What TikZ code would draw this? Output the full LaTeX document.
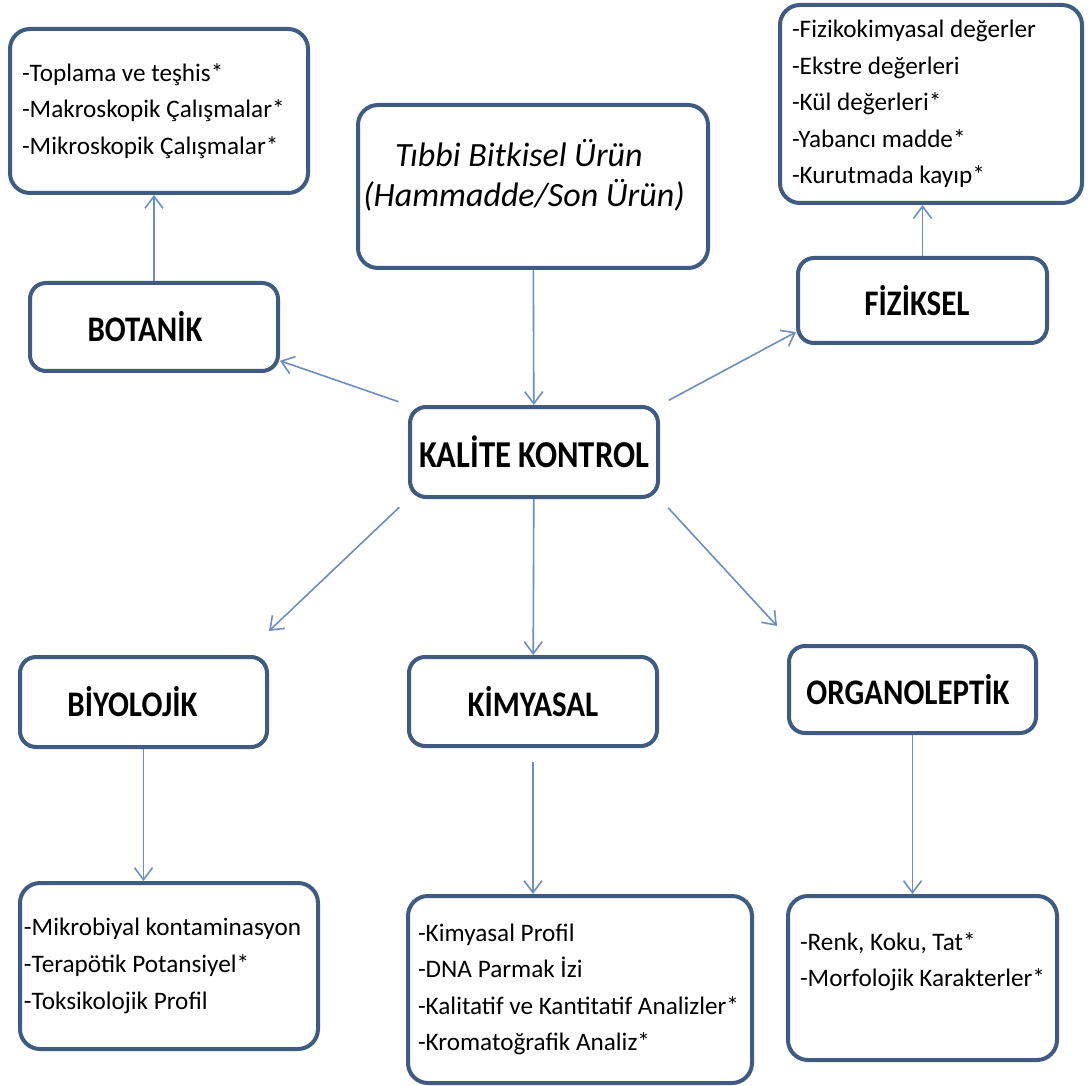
\documentclass[tikz,border=0pt]{standalone}
\usepackage{fontspec}
\setmainfont{Carlito}
\newfontfamily\headfont[FakeStretch=0.86]{Carlito}
\usetikzlibrary{arrows.meta}
\usetikzlibrary{shapes}
\definecolor{boxblue}{HTML}{3F5B82}
\definecolor{lineblue}{HTML}{6C8EBF}

\begin{document}
\begin{tikzpicture}[x=0.5pt,y=-0.5pt,
  headbox/.style={draw=boxblue, line width=2pt, rounded corners=8pt, fill=white, inner sep=0pt, font=\headfont\bfseries\fontsize{18}{22}\selectfont},
  listbox/.style={draw=boxblue, line width=2pt, rounded corners=10pt, fill=white, align=flush left, inner xsep=6pt, inner ysep=0pt, font=\fontsize{12.6}{18.3}\selectfont}]
\tikzset{edge/.style = {draw=lineblue, line width=0.8pt, -{Straight Barb[length=6pt, width=9pt]}}}
\useasboundingbox (0,0) rectangle (1089,1086);
% top row
\node[listbox, minimum width=149pt, minimum height=82pt, text width=137pt] (botL) at (159,111) {-Toplama ve teşhis*\\-Makroskopik Çalışmalar*\\-Mikroskopik Çalışmalar*};
\node[listbox, minimum width=175pt, minimum height=81.5pt, inner xsep=0pt, align=center, font=\itshape\fontsize{17}{20}\selectfont] (urun) at (533,186.5) {Tıbbi Bitkisel Ürün\kern14pt\\(Hammadde/Son Ürün)\kern9pt\\[-6pt]\mbox{}};
\node[listbox, minimum width=151pt, minimum height=99pt, text width=139pt] (fizL) at (931,104) {-Fizikokimyasal değerler\\-Ekstre değerleri\\-Kül değerleri*\\-Yabancı madde*\\-Kurutmada kayıp*};
% main boxes
\node[headbox, minimum width=124pt, minimum height=44pt] (bot) at (154,327) {BOTANİK\kern9pt};
\node[headbox, minimum width=124.5pt, minimum height=42.5pt] (fiz) at (922.5,300.5) {FİZİKSEL\kern5.5pt};
\node[headbox, minimum width=124pt, minimum height=45pt, font=\headfont\bfseries\fontsize{19}{22}\selectfont] (kal) at (534,452) {KALİTE KONTROL};
\node[headbox, minimum width=123.5pt, minimum height=45pt] (biy) at (143.5,702) {BİYOLOJİK\kern11pt};
\node[headbox, minimum width=124pt, minimum height=44.5pt] (kim) at (533,701.5) {KİMYASAL};
\node[headbox, minimum width=123.5pt, minimum height=43.5pt] (org) at (912.5,689.5) {ORGANOLEPTİK\kern4.5pt};
% bottom row
\node[listbox, minimum width=149pt, minimum height=83pt, text width=145pt, inner xsep=2pt] (biyL) at (169,966) {-Mikrobiyal kontaminasyon\\-Terapötik Potansiyel*\\-Toksikolojik Profil};
\node[listbox, minimum width=172pt, minimum height=93.5pt, text width=162pt, inner xsep=5pt] (kimL) at (580,989.5) {-Kimyasal Profil\\-DNA Parmak İzi\\-Kalitatif ve Kantitatif Analizler*\\-Kromatoğrafik Analiz*};
\node[listbox, minimum width=134.5pt, minimum height=82pt, text width=122.5pt] (orgL) at (922.5,978) {-Renk, Koku, Tat*\\-Morfolojik Karakterler*\\ \mbox{}};
% arrows
\draw[edge] (urun) -- (kal);
\draw[edge, shorten <=5pt] (kal.north west) -- (bot.-15);
\draw[edge, shorten <=5pt] (kal.north east) -- (fiz.194);
\draw[edge, shorten <=6pt] (kal.south west) -- ([yshift=12pt]biy.north east);
\draw[edge] (kal) -- (kim);
\draw[edge, shorten <=6pt] (kal.south east) -- ([xshift=-5pt,yshift=9pt]org.north west);
\draw[edge] (bot) -- (bot |- botL.south);
\draw[edge] (fiz) -- (fiz |- fizL.south);
\draw[edge] (biy) -- (biy |- biyL.north);
\draw[edge, shorten <=7pt] (kim) -- (kim |- kimL.north);
\draw[edge] (org) -- (org |- orgL.north);
\end{tikzpicture}
\end{document}
